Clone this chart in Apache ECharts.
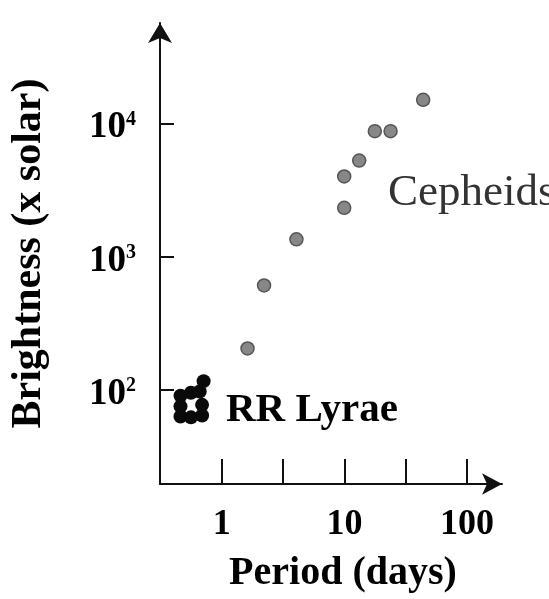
<!DOCTYPE html>
<html>
<head>
<meta charset="utf-8">
<script src="https://cdn.jsdelivr.net/npm/echarts@6/dist/echarts.min.js"></script>
<style>
html, body { margin: 0; padding: 0; background: #fff; }
#chart { width: 549px; height: 599px; }
</style>
</head>
<body>
<div id="chart"></div>
<script>
// 造父变星: 周期(天) 与 亮度(倍太阳)
const cepheidPeriod = [1.62, 2.21, 4.06, 9.96, 9.96, 13.2, 17.7, 23.8, 43.9]
const cepheidBrightness = [204, 606, 1346, 2320, 3990, 5250, 8730, 8730, 15000]
// 天琴RR型变星
const rrPeriod = [0.46, 0.46, 0.46, 0.56, 0.69, 0.69, 0.66, 0.56, 0.71]
const rrBrightness = [90, 75, 63, 62, 64, 77, 97, 95, 116]
// 刻度
const periodTicks = [1, 3.162, 10, 31.62, 100]
const periodLabels = [1, 10, 100]
const brightnessTicks = [100, 1000, 10000]

const serif = '"Liberation Serif", "Times New Roman", serif'
const ink = '#111'

const zip = (xs, ys) => xs.map((x, i) => [x, ys[i]])

const dom = document.getElementById('chart')
const myChart = echarts.init(dom, null, { renderer: 'canvas' })

const option = {
    backgroundColor: '#fff',
    animation: false,
    grid: { left: 159, top: 23, right: 47, bottom: 107 },
    xAxis: {
        type: 'log',
        logBase: 10,
        min: 0.313,
        max: 193,
        name: 'Period (days)',
        nameLocation: 'middle',
        nameGap: 70,
        nameTextStyle: { color: '#000', fontFamily: serif, fontWeight: 'bold', fontSize: 40, padding: [0, 0, 0, 24] },
        axisLine: { onZero: false, symbol: ['none', 'arrow'], symbolSize: [16, 20], lineStyle: { color: ink, width: 2 } },
        axisTick: { inside: true, length: 25, customValues: periodTicks, lineStyle: { color: ink, width: 2 } },
        axisLabel: {
            customValues: periodLabels,
            color: '#000', fontFamily: serif, fontWeight: 'bold', fontSize: 36, margin: 23,
            formatter: v => String(Math.round(v))
        },
        splitLine: { show: false }
    },
    yAxis: {
        type: 'log',
        logBase: 10,
        min: 19.6,
        max: 56600,
        name: 'Brightness (x solar)',
        nameLocation: 'middle',
        nameRotate: 90,
        nameGap: 110,
        nameTextStyle: { color: '#000', fontFamily: serif, fontWeight: 'bold', fontSize: 42 },
        axisLine: { onZero: false, symbol: ['none', 'arrow'], symbolSize: [18, 20], lineStyle: { color: ink, width: 2 } },
        axisTick: { inside: true, length: 14, customValues: brightnessTicks, lineStyle: { color: ink, width: 2 } },
        axisLabel: {
            customValues: brightnessTicks,
            margin: 24,
            padding: [9, 0, 0, 0],
            formatter: v => '{b|10}{s|' + Math.round(Math.log10(v)) + '}',
            rich: {
                b: { color: '#000', fontFamily: serif, fontWeight: 'bold', fontSize: 37, lineHeight: 36 },
                s: { color: '#000', fontFamily: serif, fontWeight: 'bold', fontSize: 20, verticalAlign: 'top' }
            }
        },
        splitLine: { show: false }
    },
    series: [
        {
            name: 'Cepheids',
            type: 'scatter',
            symbolSize: 13,
            itemStyle: { color: '#878787', borderColor: '#555', borderWidth: 1.5, opacity: 1 },
            data: zip(cepheidPeriod, cepheidBrightness)
        },
        {
            name: 'RR Lyrae',
            type: 'scatter',
            symbolSize: 14,
            itemStyle: { color: '#0a0a0a', opacity: 1 },
            data: zip(rrPeriod, rrBrightness)
        }
    ],
    graphic: [
        {
            type: 'text', x: 388, y: 193,
            style: { text: 'Cepheids', fill: '#333', font: '45px ' + serif, verticalAlign: 'middle' }
        },
        {
            type: 'text', x: 226, y: 410,
            style: { text: 'RR Lyrae', fill: '#000', font: 'bold 41px ' + serif, verticalAlign: 'middle' }
        }
    ]
}

myChart.setOption(option)
window.addEventListener('resize', () => {
    myChart.resize()
})
</script>
</body>
</html>
